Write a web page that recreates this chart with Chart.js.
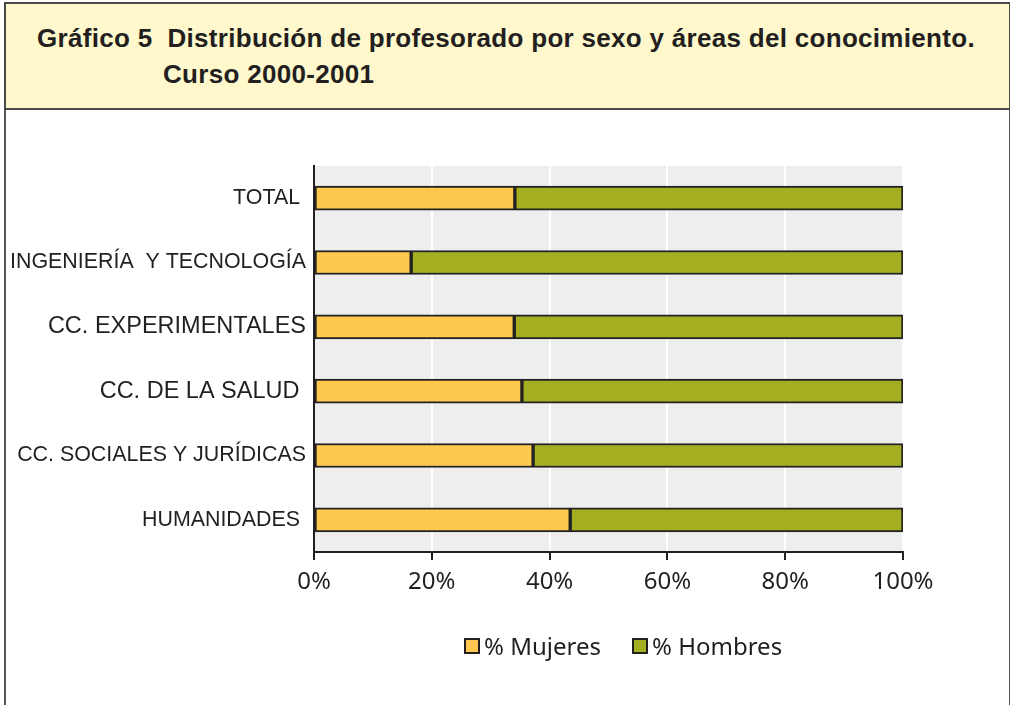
<!DOCTYPE html>
<html><head><meta charset="utf-8">
<script src="https://cdn.jsdelivr.net/npm/chart.js@4/dist/chart.umd.min.js"></script>
<style>
html,body{margin:0;padding:0;background:#fff;}
body{width:1010px;height:705px;position:relative;overflow:hidden;}
#frame{position:absolute;left:4px;top:2px;width:1007px;height:720px;border:2px solid #555;box-sizing:border-box;}
#header{position:absolute;left:4px;top:2px;width:1007px;height:108px;background:#FFF8CD;border:2px solid #4a4a4a;box-sizing:border-box;}
#t1,#t2{position:absolute;font-family:"Liberation Sans",Arial,sans-serif;font-weight:bold;font-size:26px;letter-spacing:0.3px;color:#231f20;white-space:nowrap;line-height:30px;}
#t1{left:31px;top:19px;}
#t2{left:157px;top:55px;}
#c{position:absolute;left:0;top:0;}
#legend{position:absolute;left:0;top:0;font-family:"Noto Sans","Open Sans",sans-serif;font-size:24px;color:#231f20;}
.item{position:absolute;top:630px;height:32px;line-height:32px;white-space:nowrap;}
.sw{position:absolute;top:8px;left:0;width:16px;height:16px;border:2px solid #231f20;box-sizing:border-box;}
.lt{position:absolute;left:20px;top:0;}
</style></head><body>
<div id="frame"></div>
<div id="header"><div id="t1">Gráfico 5&nbsp;&nbsp;Distribución de profesorado por sexo y áreas del conocimiento.</div><div id="t2">Curso 2000-2001</div></div>
<canvas id="c" width="1010" height="705"></canvas>
<div id="legend"></div>
<script>
const categories = ["TOTAL ", "INGENIERÍA  Y TECNOLOGÍA", "CC. EXPERIMENTALES", "CC. DE LA SALUD ", "CC. SOCIALES Y JURÍDICAS", "HUMANIDADES "];
const mujeres = [34.1, 16.5, 34.0, 35.3, 37.2, 43.5];
const hombres = [65.9, 83.5, 66.0, 64.7, 62.8, 56.5];
const seriesNames = ["% Mujeres", "% Hombres"];
const seriesColors = ["#FFC84F", "#A3AF20"];
const xTicks = [0, 20, 40, 60, 80, 100];

const bgPlugin = {
  id: 'bg',
  beforeDraw(chart) {
    const {ctx, chartArea: a} = chart;
    ctx.save();
    ctx.fillStyle = '#EEEEEE';
    ctx.fillRect(a.left, a.top, a.right - a.left, a.bottom - a.top);
    ctx.restore();
  }
};

const yLabelSizes = [21.4, 21.4, 23.5, 23.5, 21.4, 21.4];

const chart = new Chart(document.getElementById('c'), {
  type: 'bar',
  data: {
    labels: categories,
    datasets: seriesNames.map((n, i) => ({
      label: n, data: i === 0 ? mujeres : hombres,
      backgroundColor: seriesColors[i], borderColor: '#222', borderWidth: 2,
      barThickness: 24, borderSkipped: false
    }))
  },
  options: {
    indexAxis: 'y',
    responsive: false,
    animation: false,
    layout: {padding: {left: 0, right: 107, top: 166, bottom: 89}},
    plugins: {legend: {display: false}, tooltip: {enabled: false}},
    scales: {
      x: {
        stacked: true, min: 0, max: 100,
        afterBuildTicks(s) { s.ticks = xTicks.map(v => ({value: v})); },
        afterFit(s) { s.height = 64; },
        ticks: {callback: v => v + '%', color: '#231f20', font: {family: '"Noto Sans", "Open Sans", sans-serif', size: 24}, padding: 8, maxRotation: 0},
        grid: {color: '#FFFFFF', lineWidth: 2, tickLength: 8, tickColor: '#231f20', tickWidth: 2},
        border: {color: '#231f20', width: 2}
      },
      y: {
        stacked: true,
        afterFit(s) { s.width = 314; },
        ticks: {color: '#231f20', font: ctx => ({family: '"Liberation Sans", Arial, sans-serif', size: yLabelSizes[ctx.index] || 21}), padding: 0},
        grid: {display: false},
        border: {color: '#231f20', width: 2}
      }
    }
  },
  plugins: [bgPlugin]
});

// HTML legend built from the dataset names/colours
const legendX = [464, 632];
const lg = document.getElementById('legend');
chart.data.datasets.forEach((d, i) => {
  const it = document.createElement('div');
  it.className = 'item';
  it.style.left = legendX[i] + 'px';
  const sw = document.createElement('div');
  sw.className = 'sw';
  sw.style.background = d.backgroundColor;
  const t = document.createElement('span');
  t.className = 'lt';
  t.textContent = d.label;
  it.appendChild(sw); it.appendChild(t);
  lg.appendChild(it);
});
</script>
</body></html>
